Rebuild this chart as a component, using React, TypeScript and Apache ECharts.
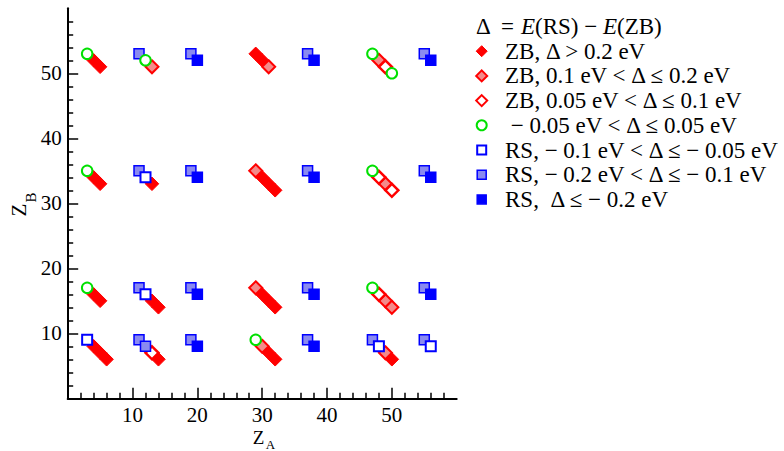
import React, { useEffect, useRef } from 'react';
import * as echarts from 'echarts';

// Z_A, Z_B pairs per stability class (Δ = E(RS) − E(ZB))
const zbStrong: [number, number][] = [
  [4, 52], [5, 51], [4, 34], [5, 33], [4, 16], [5, 15], [4, 8], [5, 7], [6, 6],
  [13, 33], [13, 15], [14, 14], [14, 6],
  [29, 53], [30, 52], [30, 34], [31, 33], [32, 32], [30, 16], [31, 15], [32, 14], [31, 7], [32, 6],
  [50, 6],
];
const zbMedium: [number, number][] = [
  [13, 51], [31, 51], [29, 35], [29, 17], [30, 8], [48, 52], [49, 33], [49, 15], [50, 14], [49, 7],
];
const zbWeak: [number, number][] = [
  [13, 7], [49, 51], [48, 34], [50, 32], [48, 16],
];
const neutral: [number, number][] = [
  [3, 53], [3, 35], [3, 17], [12, 52], [29, 9], [47, 53], [50, 50], [47, 35], [47, 17],
];
const rsWeak: [number, number][] = [
  [3, 9], [12, 34], [12, 16], [48, 8], [56, 8],
];
const rsMedium: [number, number][] = [
  [11, 53], [11, 35], [11, 17], [11, 9], [12, 8],
  [19, 53], [19, 35], [19, 17], [19, 9],
  [37, 53], [37, 35], [37, 17], [37, 9],
  [47, 9],
  [55, 53], [55, 35], [55, 17], [55, 9],
];
const rsStrong: [number, number][] = [
  [20, 52], [20, 34], [20, 16], [20, 8],
  [38, 52], [38, 34], [38, 16], [38, 8],
  [56, 52], [56, 34], [56, 16],
];

const axisTicks = [0, 10, 20, 30, 40, 50];
const axisLabels = [10, 20, 30, 40, 50];

const legendTitle = '{n|Δ  = }{i|E}{n|(RS) − }{i|E}{n|(ZB)}';
const legendLabels = [
  'ZB, Δ > 0.2 eV',
  'ZB, 0.1 eV < Δ ≤ 0.2 eV',
  'ZB, 0.05 eV < Δ ≤ 0.1 eV',
  ' − 0.05 eV < Δ ≤ 0.05 eV',
  'RS, − 0.1 eV < Δ ≤ − 0.05 eV',
  'RS, − 0.2 eV < Δ ≤ − 0.1 eV',
  'RS,  Δ ≤ − 0.2 eV',
];

const RED = '#ff0000';
const RED_HATCH = '#f48a8a';
const BLUE = '#0000ff';
const BLUE_HATCH = '#8a8af0';
const GREEN = '#00e000';
const FONT = "'Liberation Serif', 'Times New Roman', serif";
const LEGEND_FS = 23;

type Style = { fill: string; stroke: string; lw: number };
const styles: { shape: 'diamond' | 'circle' | 'rect'; st: Style }[] = [
  { shape: 'diamond', st: { fill: RED, stroke: RED, lw: 1 } },
  { shape: 'diamond', st: { fill: RED_HATCH, stroke: RED, lw: 2 } },
  { shape: 'diamond', st: { fill: '#ffffff', stroke: RED, lw: 2.5 } },
  { shape: 'circle', st: { fill: '#ffffff', stroke: GREEN, lw: 2 } },
  { shape: 'rect', st: { fill: '#ffffff', stroke: BLUE, lw: 2 } },
  { shape: 'rect', st: { fill: BLUE_HATCH, stroke: BLUE, lw: 1.5 } },
  { shape: 'rect', st: { fill: BLUE, stroke: BLUE, lw: 1.5 } },
];

function scatter(name: string, data: [number, number][], idx: number, size: number) {
  const s = styles[idx];
  return {
    type: 'scatter',
    name,
    data,
    symbol: s.shape,
    symbolSize: size,
    itemStyle: { color: s.st.fill, borderColor: s.st.stroke, borderWidth: s.st.lw, opacity: 1 },
    emphasis: { disabled: true },
  };
}

function textEl(text: string, x: number, y: number, fontSize: number, rotation = 0) {
  return {
    type: 'text',
    x,
    y,
    rotation,
    style: { text, fontSize, fontFamily: FONT, fill: '#000', align: 'center', verticalAlign: 'middle' },
  };
}

function legendGraphics() {
  const els: any[] = [];
  const rowY0 = 26.5;
  const gap = 24.7;
  els.push({
    type: 'text',
    x: 476,
    y: rowY0,
    style: {
      text: legendTitle,
      verticalAlign: 'middle',
      rich: {
        n: { fontSize: LEGEND_FS, fontFamily: FONT, fill: '#000' },
        i: { fontSize: LEGEND_FS, fontFamily: FONT, fontStyle: 'italic', fill: '#000' },
      },
    },
  });
  legendLabels.forEach((label, i) => {
    const y = rowY0 + gap * (i + 1);
    const x = 481.7;
    const s = styles[i];
    const st = { fill: s.st.fill, stroke: s.st.stroke, lineWidth: Math.min(s.st.lw, 2) };
    if (s.shape === 'diamond') {
      els.push({ type: 'polygon', shape: { points: [[x, y - 5.5], [x + 5.5, y], [x, y + 5.5], [x - 5.5, y]] }, style: st });
    } else if (s.shape === 'circle') {
      els.push({ type: 'circle', shape: { cx: x, cy: y, r: 5 }, style: st });
    } else {
      els.push({ type: 'rect', shape: { x: x - 4.5, y: y - 4.5, width: 9, height: 9 }, style: st });
    }
    els.push({
      type: 'text',
      x: 505,
      y,
      style: { text: label, fontSize: LEGEND_FS, fontFamily: FONT, fill: '#000', verticalAlign: 'middle' },
    });
  });
  // axis titles with subscripts
  els.push(textEl('Z', 258.5, 437.5, 19));
  els.push(textEl('A', 270.5, 444.5, 13));
  els.push(textEl('Z', 19, 210, 21, Math.PI / 2));
  els.push(textEl('B', 30.5, 197.5, 15, Math.PI / 2));
  return els;
}

function axis() {
  return {
    type: 'value',
    min: 0,
    max: 60,
    interval: 10,
    splitLine: { show: false },
    axisLine: { show: true, onZero: false, lineStyle: { color: '#000', width: 2 } },
    axisTick: { show: true, inside: true, length: 10.5, customValues: axisTicks, lineStyle: { color: '#000', width: 1.5 } },
    minorTick: { show: true, splitNumber: 5, length: 5.5, lineStyle: { color: '#000', width: 1.5 } },
    axisLabel: { customValues: axisLabels, fontSize: 21, fontFamily: FONT, color: '#000', margin: 6 },
  };
}

export default function App() {
  const ref = useRef<HTMLDivElement>(null);
  useEffect(() => {
    const chart = echarts.init(ref.current!, null, { renderer: 'svg' });
    chart.setOption({
      animation: false,
      backgroundColor: '#ffffff',
      grid: { left: 67.7, right: 327.3, top: 8.3, bottom: 52.7, containLabel: false, outerBoundsMode: 'none' },
      xAxis: axis(),
      yAxis: axis(),
      series: [
        scatter('ZB, Δ > 0.2 eV', zbStrong, 0, 13.5),
        scatter('ZB, 0.1 eV < Δ ≤ 0.2 eV', zbMedium, 1, 13),
        scatter('ZB, 0.05 eV < Δ ≤ 0.1 eV', zbWeak, 2, 13),
        scatter('RS, − 0.2 eV < Δ ≤ − 0.1 eV', rsMedium, 5, 10),
        scatter('RS, − 0.1 eV < Δ ≤ − 0.05 eV', rsWeak, 4, 10),
        scatter('RS, Δ ≤ − 0.2 eV', rsStrong, 6, 10),
        scatter('− 0.05 eV < Δ ≤ 0.05 eV', neutral, 3, 10.5),
      ],
      graphic: legendGraphics(),
    });
    return () => chart.dispose();
  }, []);
  return <div ref={ref} style={{ position: 'fixed', left: 0, top: 0, width: 784, height: 451 }} />;
}
